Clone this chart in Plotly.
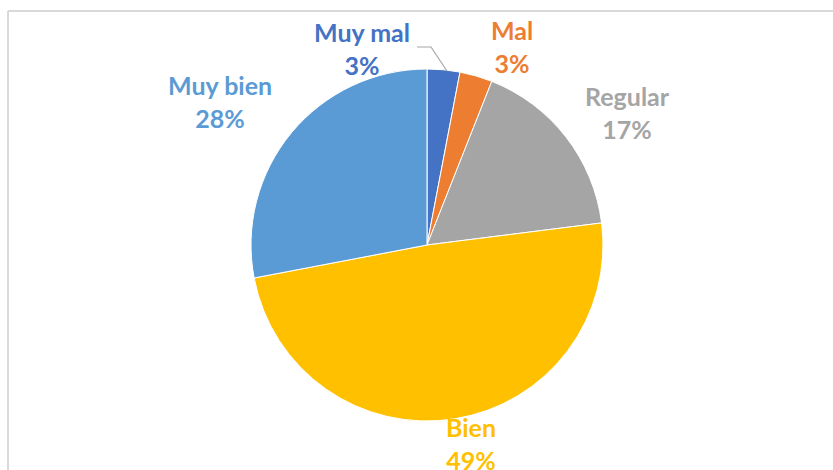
import plotly.graph_objects as go

categories = ["Muy mal", "Mal", "Regular", "Bien", "Muy bien"]
values = [3, 3, 17, 49, 28]
colors = ["#4472C4", "#ED7D31", "#A5A5A5", "#FFC000", "#5B9BD5"]

W, H = 833, 470
cx, cy, r = 427, 245, 176

# label anchor positions (pixels from top-left) - layout only
label_pos = {
    "Muy mal": (362, 48),
    "Mal": (512, 47),
    "Regular": (627, 112),
    "Bien": (471, 443),
    "Muy bien": (220, 101),
}

fig = go.Figure(go.Pie(
    labels=categories,
    values=values,
    sort=False,
    direction="clockwise",
    rotation=0,
    marker=dict(colors=colors, line=dict(color="white", width=1)),
    textinfo="none",
    automargin=False,
    showlegend=False,
    hoverinfo="label+percent",
    domain=dict(x=[(cx - r) / W, (cx + r) / W], y=[1 - (cy + r) / H, 1 - (cy - r) / H]),
))

total = sum(values)
annotations = []
for cat, val, col in zip(categories, values, colors):
    px, py = label_pos[cat]
    pct = round(100 * val / total)
    annotations.append(dict(
        xref="paper", yref="paper", x=px / W, y=1 - py / H,
        xanchor="center", yanchor="middle", showarrow=False,
        text=f"<b>{cat}<br>{pct}%</b>",
        font=dict(family="Lato, 'Open Sans', sans-serif", size=25, color=col),
    ))

leader = "M {:.5f},{:.5f} L {:.5f},{:.5f} L {:.5f},{:.5f}".format(
    417 / W, 1 - 47 / H, 431 / W, 1 - 47 / H, 447 / W, 1 - 71 / H)

fig.update_layout(
    width=W, height=H,
    margin=dict(l=0, r=0, t=0, b=0),
    paper_bgcolor="white",
    plot_bgcolor="white",
    annotations=annotations,
    shapes=[
        dict(type="line", xref="paper", yref="paper", x0=8 / W, x1=1.01, y0=1 - 11 / H, y1=1 - 11 / H,
             line=dict(color="#D9D9D9", width=2)),
        dict(type="line", xref="paper", yref="paper", x0=8 / W, x1=8 / W, y0=1 - 11 / H, y1=-0.01,
             line=dict(color="#D9D9D9", width=2)),
        dict(type="path", xref="paper", yref="paper", path=leader,
             line=dict(color="#A6A6A6", width=1.2)),
    ],
)

fig.write_html("out.html", config={"displayModeBar": False},
               post_script="document.body.style.margin='0';document.body.style.overflow='hidden';")
